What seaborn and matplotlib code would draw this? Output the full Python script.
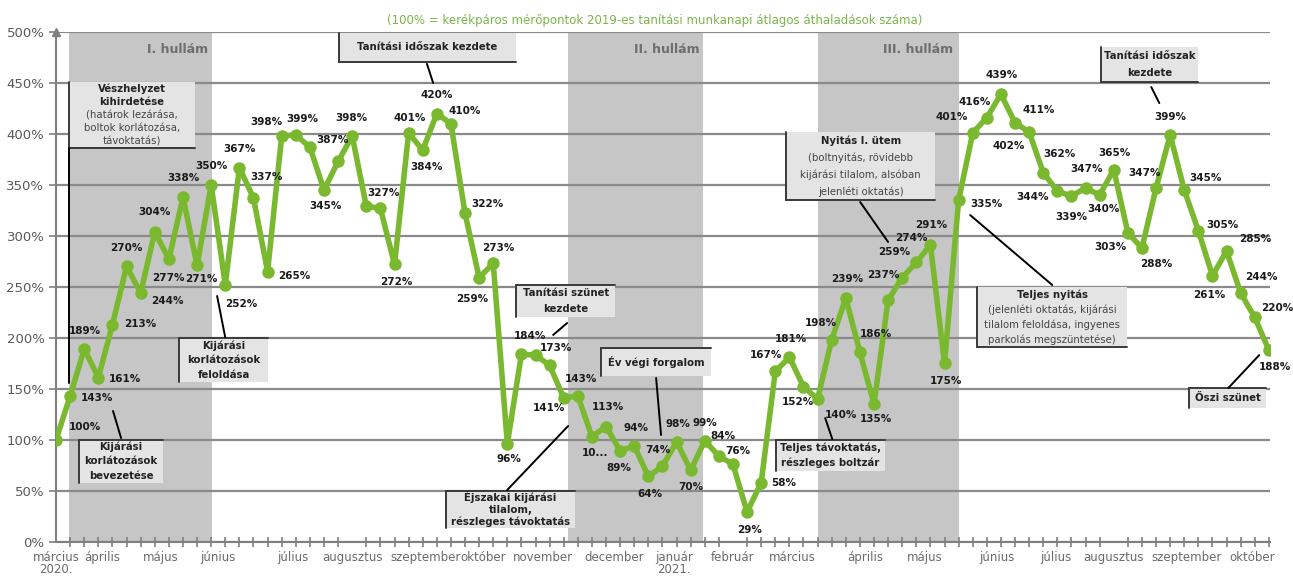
import numpy as np
import pandas as pd
import seaborn as sns
import matplotlib.pyplot as plt
from matplotlib.patches import Rectangle

# weekly bicycle traffic, % of the 2019 school-day average
values = [100, 143, 189, 161, 213, 270, 244, 304, 277, 338, 271, 350, 252, 367, 337,
          265, 398, 399, 387, 345, 373, 398, 329, 327, 272, 401, 384, 420, 410, 322,
          259, 273, 96, 184, 183, 173, 141, 143, 103, 113, 89, 94, 64, 74, 98,
          70, 99, 84, 76, 29, 58, 167, 181, 152, 140, 198, 239, 186, 135, 237,
          259, 274, 291, 175, 335, 401, 416, 439, 411, 402, 362, 344, 339, 347, 340,
          365, 303, 288, 347, 399, 345, 305, 261, 285, 244, 220, 188]
no_label = {20, 22, 34}
short_label = {38: "10..."}

months = ["március\n2020.", "április", "május", "június", "július", "augusztus",
          "szeptember", "október", "november", "december", "január\n2021.", "február",
          "március", "április", "május", "június", "július", "augusztus",
          "szeptember", "október"]
month_pos = [0, 3.3, 7.4, 11.5, 16.8, 21, 26.2, 30.3, 34.5, 39.6, 43.8, 48,
             52.2, 57.4, 61.6, 66.7, 70.9, 75, 80.2, 84.8]

waves = ["I. hullám", "II. hullám", "III. hullám"]
wave_spans = [(0.92, 11.06), (36.31, 45.89), (54.04, 64.04)]
wave_label_x = [8.65, 43.3, 61.1]

title = "(100% = kerékpáros mérőpontok 2019-es tanítási munkanapi átlagos áthaladások száma)"

# label offsets in pixels (dx right, dy down)
label_off = [(29, -13), (27, 2), (1, -18), (27, 1), (28, -1), (0, -18), (27, 8), (0, -20),
             (-1, 19), (0, -19), (4, 14), (0, -19), (16, 19), (0, -19), (13, -21), (27, 4),
             (-15, -14), (7, -16), (23, -7), (1, 16), None, (-1, -18), None, (3, -15),
             (2, 18), (1, -15), (4, 17), (0, -19), (14, -13), (22, -9), (-7, 21), (5, -15),
             (2, 15), (9, -18), None, (6, -17), (-15, 10), (3, -17), (3, 16), (2, -20),
             (-1, 17), (2, -18), (2, 18), (-5, -16), (1, -18), (0, 17), (0, -18), (4, -20),
             (5, -13), (2, 18), (23, 0), (-9, -16), (2, -18), (-6, 15), (23, 16), (-11, -17),
             (1, -19), (16, -18), (2, 15), (-5, -25), (-8, -26), (-5, -24), (1, -20), (1, 18),
             (28, 4), (-21, -16), (-12, -16), (1, -19), (24, -13), (-20, 14), (16, -19),
             (-25, 6), (0, 21), (1, -19), (4, 14), (1, -17), (-17, 14), (14, 16), (-11, -15),
             (0, -18), (21, -12), (24, -6), (-3, 19), (29, -12), (21, -16), (22, -9), (6, 17)]

sns.set_theme(style="white")
plt.rcParams['font.family'] = ['DejaVu Sans']

fig = plt.figure(figsize=(12.93, 5.76), dpi=100)
ax = fig.add_axes([55.5 / 1293, 1 - 541.7 / 576, (1270 - 55.5) / 1293, (541.7 - 32) / 576])

idx = np.arange(len(values))
df = pd.DataFrame({"week": idx, "value": values})

for (a, b) in wave_spans:
    ax.axvspan(a, b, color="#c6c6c6", lw=0, zorder=0.2)
for name, xw in zip(waves, wave_label_x):
    ax.text(xw, 483, name, ha="center", va="center", fontsize=9, fontweight="bold",
            color="#6e6e6e", zorder=2)

ax.set_axisbelow(True)
ax.yaxis.grid(True, color="#8a8a8a", lw=1.6)
ax.set_ylim(0, 500)
ax.set_xlim(-0.04, 86.08)

sns.lineplot(data=df, x="week", y="value", ax=ax, color="#7ab92f", lw=4, marker="o",
             markersize=9, markeredgewidth=0, zorder=5)

for i, v in enumerate(values):
    if i in no_label or label_off[i] is None:
        continue
    txt = short_label.get(i, f"{v}%")
    dx, dy = label_off[i]
    ax.annotate(txt, (i, v), xytext=(dx, -dy), textcoords="offset pixels", ha="center",
                va="center", fontsize=7.5, fontweight="bold", color="#1a1a1a", zorder=6,
                annotation_clip=False)


def callout(x0, x1, y0, y1, lines, edges, leader):
    ax.add_patch(Rectangle((x0, y0), x1 - x0, y1 - y0, facecolor="#e4e4e4",
                           edgecolor="none", zorder=3, clip_on=False))
    if "l" in edges:
        ax.plot([x0, x0], [y0, y1], color="#3a3a3a", lw=1.4, zorder=3.5, clip_on=False)
    if "b" in edges:
        ax.plot([x0, x1], [y0, y0], color="#3a3a3a", lw=1.4, zorder=3.5, clip_on=False)
    if "t" in edges:
        ax.plot([x0, x1], [y1, y1], color="#3a3a3a", lw=1.4, zorder=3.5, clip_on=False)
    step = (y1 - y0) / len(lines)
    for k, (t, bold) in enumerate(lines):
        ax.text((x0 + x1) / 2, y1 - step * (k + 0.5), t, ha="center", va="center",
                fontsize=7.3, fontweight="bold" if bold else "normal",
                color="#222222" if bold else "#444444", zorder=4)
    ax.plot(leader[0], leader[1], color="black", lw=1.4, zorder=3.5, clip_on=False)


callout(0.92, 9.86, 386, 451,
        [("Vészhelyzet", True), ("kihirdetése", True), ("(határok lezárása,", False),
         ("boltok korlátozása,", False), ("távoktatás)", False)],
        "lb", ([0.92, 0.92], [386, 155.6]))
callout(1.63, 7.59, 57.6, 99.8,
        [("Kijárási", True), ("korlátozások", True), ("bevezetése", True)],
        "lt", ([4.04, 4.61], [128.2, 101.7]))
callout(8.72, 15.04, 156.7, 199.8,
        [("Kijárási", True), ("korlátozások", True), ("feloldása", True)],
        "lt", ([11.42, 11.99], [241, 200.8]))
callout(20.07, 32.62, 470.8, 499,
        [("Tanítási időszak kezdete", True)],
        "lb", ([26.3, 26.74], [468.7, 450]))
callout(32.62, 39.65, 220.5, 251.8,
        [("Tanítási szünet", True), ("kezdete", True)],
        "lt", ([35.25, 36.24], [202.8, 214.5]))
callout(38.65, 46.45, 162.5, 190,
        [("Év végi forgalom", True)],
        "lt", ([42.55, 42.9], [160.6, 104.7]))
callout(27.66, 36.81, 13.4, 49.7,
        [("Éjszakai kijárási", True), ("tilalom,", True), ("részleges távoktatás", True)],
        "lt", ([31.99, 36.31], [50.7, 113.5]))
callout(51.77, 62.34, 335.2, 401.9,
        [("Nyitás I. ütem", True), ("(boltnyitás, rövidebb", False),
         ("kijárási tilalom, alsóban", False), ("jelenléti oktatás)", False)],
        "lb", ([57.02, 59.0], [333.2, 294]))
callout(51.06, 58.79, 69.4, 99.8,
        [("Teljes távoktatás,", True), ("részleges boltzár", True)],
        "lt", ([54.54, 55.04], [121.3, 100.7]))
callout(74.11, 80.99, 450.9, 485.3,
        [("Tanítási időszak", True), ("kezdete", True)],
        "lb", ([77.66, 78.23], [446, 430.3]))
callout(65.32, 75.96, 191, 249.8,
        [("Teljes nyitás", True), ("(jelenléti oktatás, kijárási", False),
         ("tilalom feloldása, ingyenes", False), ("parkolás megszüntetése)", False)],
        "lb", ([64.82, 70.64], [320.4, 251.8]))
callout(80.35, 85.82, 131.2, 150.7,
        [("Őszi szünet", True)],
        "lt", ([83.12, 85.32], [150.7, 183.1]))

# axes styling
for s in ["top", "right"]:
    ax.spines[s].set_visible(False)
for s in ["left", "bottom"]:
    ax.spines[s].set_color("#808080")
    ax.spines[s].set_linewidth(1.5)
ax.plot(0, 1, marker="^", color="#808080", markersize=6, transform=ax.transAxes,
        clip_on=False, zorder=6)

ax.set_yticks(range(0, 501, 50))
ax.set_yticklabels([f"{t}%" for t in range(0, 501, 50)])
ax.tick_params(axis="y", length=5, width=1.2, color="#808080", labelsize=9.5,
               labelcolor="#595959", pad=3, left=True)
ax.set_xticks(month_pos)
ax.set_xticklabels(months)
for lbl in ax.get_xticklabels():
    lbl.set_linespacing(0.85)
ax.set_xticks(idx, minor=True)
ax.tick_params(axis="x", which="major", length=0, labelsize=8.5, labelcolor="#6a6a6a", pad=7)
ax.tick_params(axis="x", which="minor", length=7, width=1.2, color="#808080",
               direction="inout", bottom=True)
ax.set_xlabel("")
ax.set_ylabel("")

fig.text(655 / 1293, 1 - 20 / 576, title, ha="center", va="center", fontsize=8.5,
         color="#7ab648")

fig.savefig("out.png", dpi=100)
